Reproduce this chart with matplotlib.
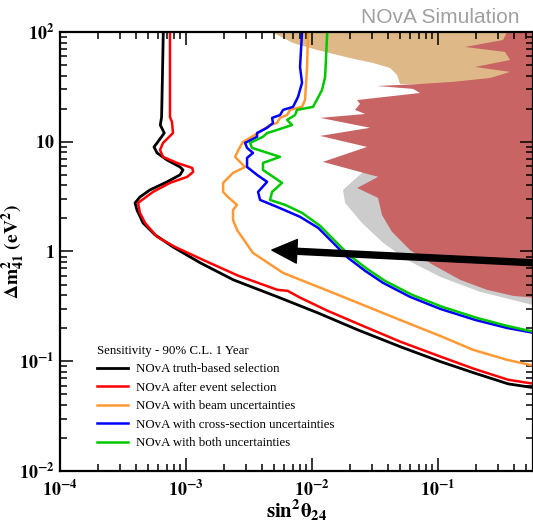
import numpy as np
import matplotlib
matplotlib.use("Agg")
import matplotlib.pyplot as plt
from matplotlib.ticker import LogLocator, NullFormatter

plt.rcParams['mathtext.fontset'] = 'stix'
plt.rcParams['font.family'] = ['Liberation Serif', 'DejaVu Serif']

# sensitivity contours (sin^2 theta24, dm^2_41 in eV^2)
black_x = [6.6e-4, 6.5e-4, 6.4e-4, 6.25e-4, 6.72e-4, 5.89e-4, 5.57e-4, 5.89e-4, 7.07e-4, 8.96e-4,
           9.47e-4, 8.96e-4, 7.07e-4, 5.18e-4, 4.31e-4, 3.94e-4, 4.08e-4, 4.56e-4, 5.67e-4, 7.88e-4,
           1.30e-3, 2.38e-3, 5.32e-3, 1.11e-2, 2.31e-2, 5.07e-2, 0.105, 0.193, 0.36, 0.58]
black_y = [100, 40, 16.8, 14.2, 12.0, 9.75, 8.97, 7.91, 6.82, 5.89,
           5.53, 4.99, 4.31, 3.64, 3.14, 2.77, 2.39, 1.82, 1.42, 1.10,
           0.787, 0.551, 0.386, 0.276, 0.193, 0.135, 0.099, 0.0783, 0.0622, 0.0573]

red_x = [7.46e-4, 7.46e-4, 7.74e-4, 7.88e-4, 6.57e-4, 6.22e-4, 6.57e-4, 8.49e-4, 1.12e-3, 1.14e-3,
         1.02e-3, 7.46e-4, 5.47e-4, 4.48e-4, 4.16e-4, 4.31e-4, 4.73e-4, 5.89e-4, 8.18e-4, 1.42e-3,
         2.61e-3, 5.32e-3, 6.4e-3, 8.1e-3, 1.33e-2, 2.53e-2, 5.07e-2, 0.105, 0.193, 0.36, 0.58]
red_y = [100, 16.8, 15.1, 12.0, 9.75, 8.42, 7.28, 6.41, 5.77, 5.31,
         4.78, 4.22, 3.49, 2.95, 2.77, 2.25, 1.82, 1.36, 1.10, 0.821,
         0.600, 0.447, 0.438, 0.378, 0.288, 0.210, 0.150, 0.110, 0.0853, 0.0678, 0.0622]

orange_x = [9.30e-3, 9.13e-3, 8.80e-3, 8.33e-3, 6.69e-3, 6.34e-3, 5.57e-3, 5.27e-3, 4.64e-3, 3.73e-3,
            2.83e-3, 2.68e-3, 2.45e-3, 2.68e-3, 2.94e-3, 2.36e-3, 1.97e-3, 1.97e-3, 2.15e-3, 2.54e-3,
            2.36e-3, 2.36e-3, 2.54e-3, 3.40e-3, 5.89e-3, 1.47e-2, 4.99e-2, 0.104, 0.190, 0.353, 0.58]
orange_y = [100, 48.0, 24.0, 20.8, 19.5, 17.5, 16.5, 14.8, 14.2, 12.0,
            9.95, 8.97, 7.28, 6.55, 5.89, 5.20, 4.22, 3.49, 3.14, 2.66,
            2.39, 1.94, 1.57, 0.970, 0.638, 0.420, 0.238, 0.170, 0.127, 0.103, 0.0908]

blue_x = [8.33e-3, 8.03e-3, 8.33e-3, 7.74e-3, 7.07e-3, 5.89e-3, 5.57e-3, 4.82e-3, 4.90e-3, 4.40e-3,
          3.66e-3, 3.66e-3, 2.94e-3, 3.05e-3, 3.40e-3, 3.05e-3, 3.05e-3, 3.66e-3, 4.40e-3, 3.73e-3,
          3.87e-3, 5.27e-3, 8.03e-3, 1.12e-2, 1.47e-2, 1.93e-2, 2.64e-2, 3.66e-2, 6.00e-2, 0.104,
          0.197, 0.353, 0.58]
blue_y = [100, 48.0, 34.4, 25.6, 20.8, 19.5, 17.5, 16.5, 14.8, 13.4,
          12.0, 11.1, 9.75, 8.79, 7.91, 7.12, 5.89, 4.99, 4.31, 3.49,
          2.95, 2.55, 2.07, 1.64, 1.20, 0.875, 0.666, 0.518, 0.386, 0.300,
          0.238, 0.201, 0.181]

green_x = [1.32e-2, 1.27e-2, 1.20e-2, 1.02e-2, 7.60e-3, 7.33e-3, 6.34e-3, 6.94e-3, 5.27e-3, 4.40e-3,
           4.08e-3, 3.22e-3, 3.34e-3, 5.57e-3, 4.08e-3, 4.08e-3, 5.78e-3, 4.82e-3, 4.64e-3, 6.11e-3,
           8.33e-3, 1.16e-2, 1.52e-2, 2.00e-2, 2.73e-2, 3.79e-2, 6.22e-2, 0.108, 0.204, 0.353, 0.58]
green_y = [100, 38.9, 29.6, 20.8, 19.5, 17.5, 15.8, 14.2, 12.8, 12.0,
           11.1, 9.75, 8.79, 7.28, 6.41, 5.53, 4.22, 3.49, 2.95, 2.66,
           2.25, 1.71, 1.25, 0.912, 0.695, 0.540, 0.403, 0.313, 0.248, 0.210, 0.185]

# allowed regions from other experiments
tan_x = [4.8e-3, 7.07e-3, 1.10e-2, 2.00e-2, 3.05e-2, 4.16e-2, 4.73e-2, 4.99e-2, 0.6, 0.6]
tan_y = [100, 79.4, 68.5, 57.9, 52.2, 47.0, 40.6, 33.6, 33.6, 100]

red_region_x = [0.6, 0.353, 0.328, 0.164, 0.340, 0.373, 0.197, 0.373, 0.259, 0.131,
                7.19e-2, 3.28e-2, 6.34e-2, 7.19e-2, 2.28e-2, 2.40e-2, 2.19e-2, 2.64e-2, 1.16e-2, 2.89e-2,
                1.16e-2, 2.73e-2, 1.22e-2, 2.40e-2, 3.34e-2, 2.28e-2, 3.34e-2, 3.59e-2, 4.31e-2, 6.00e-2,
                9.12e-2, 0.150, 0.245, 0.394, 0.6]
red_region_y = [100, 100, 84.6, 73.0, 65.8, 55.6, 48.0, 43.3, 38.1, 35.1,
                33.6, 32.2, 30.3, 27.8, 24.0, 22.1, 19.5, 17.9, 16.5, 13.4,
                11.3, 8.97, 6.55, 5.31, 4.78, 3.79, 3.08, 2.15, 1.51, 1.03,
                0.755, 0.551, 0.447, 0.394, 0.378]

grey_x = [2.54e-2, 1.76e-2, 1.83e-2, 2.49e-2, 3.66e-2, 5.67e-2, 0.104, 0.215, 0.6, 0.6, 3.47e-2]
grey_y = [5.31, 3.64, 2.77, 1.82, 1.20, 0.838, 0.587, 0.429, 0.320, 0.551, 4.68]

labels = ['NOvA truth-based selection', 'NOvA after event selection',
          'NOvA with beam uncertainties', 'NOvA with cross-section uncertainties',
          'NOvA with both uncertainties']

fig = plt.figure(figsize=(5.33, 5.27), dpi=100)
ax = fig.add_axes([0.1126, 0.1063, 0.8874, 0.833])

ax.fill(tan_x, tan_y, color='#DEB887', lw=0)
ax.fill(grey_x, grey_y, color='#CCCCCC', lw=0)
ax.fill(red_region_x, red_region_y, color='#C86464', lw=0)

lw = 1.8
ax.plot(black_x, black_y, color='black', lw=2.0, label=labels[0])
ax.plot(red_x, red_y, color='#FF0000', lw=lw, label=labels[1])
ax.plot(orange_x, orange_y, color='#FF9933', lw=lw, label=labels[2])
ax.plot(blue_x, blue_y, color='#0000FF', lw=lw, label=labels[3])
ax.plot(green_x, green_y, color='#00C800', lw=lw, label=labels[4])

ax.annotate('', xy=(4.8e-3, 1.03), xytext=(0.7, 0.78),
            arrowprops=dict(width=4.3, headwidth=17, headlength=18, color='black'))

ax.set_xscale('log')
ax.set_yscale('log')
ax.set_xlim(1e-4, 0.567)
ax.set_ylim(1e-2, 1e2)

ax.set_xticks([1e-4, 1e-3, 1e-2, 1e-1])
ax.set_xticklabels([r'$\mathbf{10^{-4}}$', r'$\mathbf{10^{-3}}$', r'$\mathbf{10^{-2}}$', r'$\mathbf{10^{-1}}$'])
ax.set_yticks([1e-2, 1e-1, 1, 10, 100])
ax.set_yticklabels([r'$\mathbf{10^{-2}}$', r'$\mathbf{10^{-1}}$', r'$\mathbf{1}$', r'$\mathbf{10}$', r'$\mathbf{10^{2}}$'])
for axis in (ax.xaxis, ax.yaxis):
    axis.set_minor_locator(LogLocator(base=10, subs=np.arange(2, 10)))
    axis.set_minor_formatter(NullFormatter())

ax.tick_params(which='both', direction='in', top=True, right=True, width=1.1, labelsize=13)
ax.tick_params(which='major', length=9.5)
ax.tick_params(which='minor', length=4.8)
ax.tick_params(axis='x', pad=6)
ax.tick_params(axis='y', pad=4)
for s in ax.spines.values():
    s.set_linewidth(1.6)

ax.set_xlabel(r'$\mathbf{sin^{2}\theta_{24}}$', fontsize=15, labelpad=-1)
ax.set_ylabel(r'$\mathbf{\Delta m^{2}_{41}\ (eV^{2})}$', fontsize=14)
ax.yaxis.set_label_coords(-0.07, 0.5)

leg = ax.legend(loc='lower left', bbox_to_anchor=(0.078, 0.05), frameon=False,
                title='Sensitivity - 90% C.L. 1 Year', fontsize=9.3, title_fontsize=9.3,
                handlelength=2.4, handletextpad=0.6, labelspacing=0.5,
                borderpad=0, borderaxespad=0, alignment='left')

fig.text(0.975, 0.966, 'NOvA Simulation', ha='right', va='center', fontsize=15,
         color='#A0A0A0', family='Liberation Sans')

fig.savefig('out.png', dpi=100)
